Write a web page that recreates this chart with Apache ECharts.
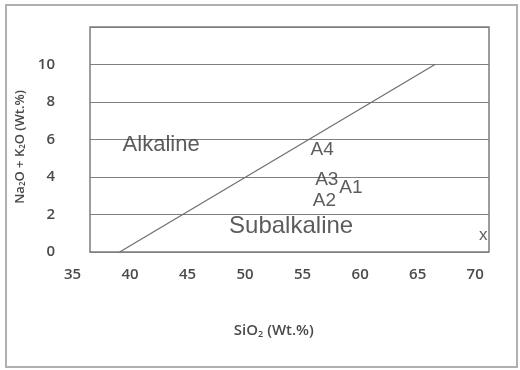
<!DOCTYPE html>
<html>
<head>
<meta charset="utf-8">
<script src="https://cdn.jsdelivr.net/npm/echarts@6/dist/echarts.min.js"></script>
<style>html,body{margin:0;padding:0;background:#fff}#c{width:520px;height:370px}</style>
</head>
<body>
<div id="c"></div>
<script>
// Divider line between alkaline and subalkaline fields [SiO2, Na2O+K2O]
var dividerLine = [[39.1, 0], [66.5, 10]];
// Field names and sample labels [SiO2, Na2O+K2O, text]
var fieldLabels = [[42.7, 5.72, 'Alkaline']];
var subLabels = [[54.0, 1.36, 'Subalkaline']];
var sampleLabels = [[56.7, 5.43, 'A4'], [57.1, 3.87, 'A3'], [59.2, 3.45, 'A1'], [56.9, 2.71, 'A2']];
var markerLabels = [[70.7, 0.88, 'x']];
// Tick labels
var xTicks = [35, 40, 45, 50, 55, 60, 65, 70];
var yTicks = [0, 2, 4, 6, 8, 10];

var chart = echarts.init(document.getElementById('c'), null, {renderer: 'canvas'});
var txt = '#333333';
var axTxt = '#4a4a4a';
var axisFont = 'Open Sans';
function labelSeries(data, size) {
  return {
    type: 'scatter', xAxisIndex: 0, yAxisIndex: 0,
    data: data, symbolSize: 1,
    itemStyle: {color: 'transparent'},
    label: {show: true, position: 'inside', formatter: function (p) { return p.value[2]; },
      color: txt, fontFamily: 'Liberation Sans', fontSize: size},
    silent: true, z: 5
  };
}
chart.setOption({
  animation: false,
  backgroundColor: '#fff',
  graphic: [{
    type: 'rect', shape: {x: 6, y: 5, width: 511, height: 362},
    style: {fill: 'none', stroke: '#b0b0b0', lineWidth: 2}, silent: true
  }],
  grid: [
    {left: 90, right: 31, top: 27, bottom: 118, show: true, borderColor: '#7c7c7c', borderWidth: 1.5},
    {left: 72.5, right: 44.8, top: 27, bottom: 118, show: false}
  ],
  xAxis: [
    {gridIndex: 0, type: 'value', min: 36.52, max: 71.2,
      axisLine: {show: false}, axisTick: {show: false}, axisLabel: {show: false}, splitLine: {show: false}},
    {gridIndex: 1, type: 'value', min: 35, max: 70, interval: 5,
      axisLine: {show: false}, axisTick: {show: false}, splitLine: {show: false},
      axisLabel: {margin: 15, color: axTxt, fontFamily: axisFont, fontSize: 15, fontWeight: 600,
        formatter: function (v) { return xTicks.indexOf(v) >= 0 ? String(v) : ''; }},
      name: 'SiO{s|2} (Wt.%)', nameLocation: 'middle', nameGap: 71,
      nameTextStyle: {color: axTxt, fontFamily: axisFont, fontSize: 15, fontWeight: 600,
        rich: {s: {fontSize: 9, fontWeight: 600, verticalAlign: 'bottom', padding: [7, 0, 0, 0], color: axTxt, fontFamily: axisFont}}}}
  ],
  yAxis: [
    {gridIndex: 0, type: 'value', min: 0, max: 12, interval: 2,
      axisLine: {show: false}, axisTick: {show: false},
      splitLine: {show: true, lineStyle: {color: '#7f7f7f', width: 1.2}},
      axisLabel: {margin: 35, color: axTxt, fontFamily: axisFont, fontSize: 15, fontWeight: 600,
        formatter: function (v) { return yTicks.indexOf(v) >= 0 ? String(v) : ''; }},
      name: 'Na{s|2}O + K{s|2}O (Wt.%)', nameLocation: 'middle', nameGap: 60,
      nameTextStyle: {color: axTxt, fontFamily: axisFont, fontSize: 13, fontWeight: 600, padding: [0, 15, 0, 0],
        rich: {s: {fontSize: 8, fontWeight: 600, verticalAlign: 'bottom', padding: [6, 0, 0, 0], color: axTxt, fontFamily: axisFont}}}},
    {gridIndex: 1, type: 'value', min: 0, max: 12, show: false}
  ],
  series: [
    {type: 'line', xAxisIndex: 0, yAxisIndex: 0, data: dividerLine, symbol: 'none',
      lineStyle: {color: '#6e6e6e', width: 1.2}, silent: true},
    labelSeries(fieldLabels, 22),
    labelSeries(subLabels, 24),
    labelSeries(sampleLabels, 19),
    labelSeries(markerLabels, 17)
  ]
});
</script>
</body>
</html>
